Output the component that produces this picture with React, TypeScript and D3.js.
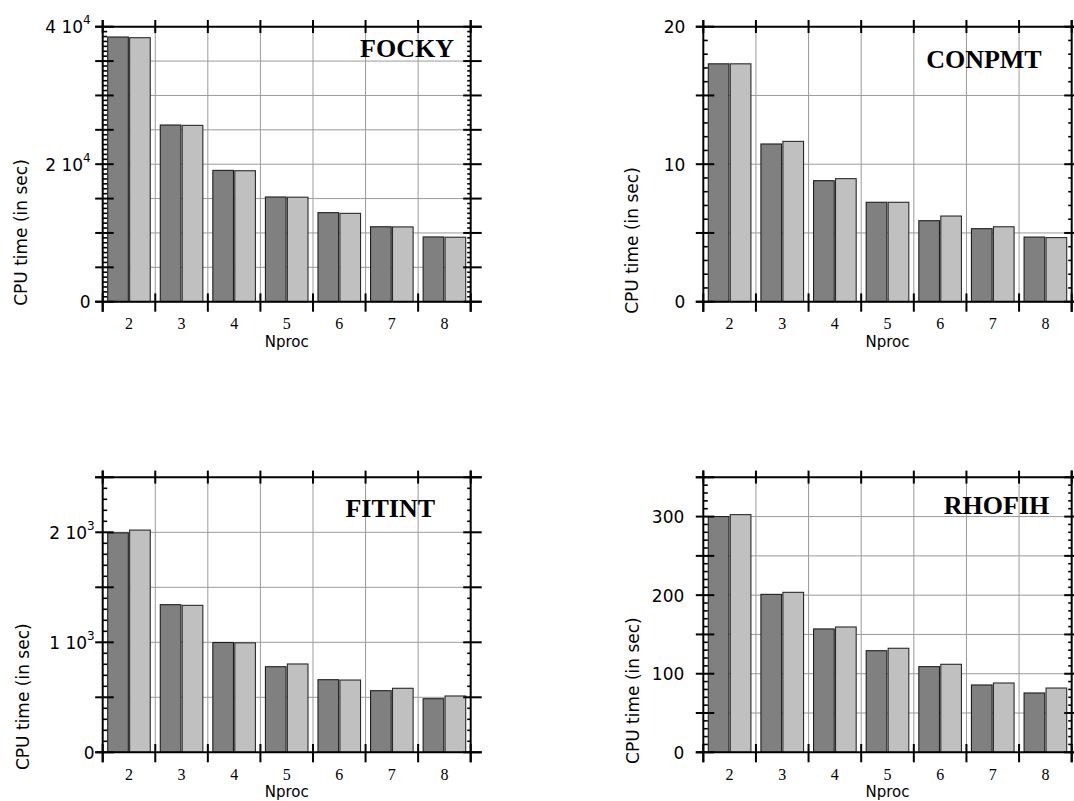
import React from "react";
import * as d3 from "d3";

// ---------- data ----------
const categories = [2, 3, 4, 5, 6, 7, 8];

const fockyDark = [38500, 25700, 19100, 15230, 12950, 10900, 9420];
const fockyLight = [38400, 25650, 19050, 15200, 12850, 10880, 9380];

const conpmtDark = [17.3, 11.47, 8.8, 7.23, 5.89, 5.31, 4.7];
const conpmtLight = [17.3, 11.66, 8.95, 7.23, 6.23, 5.45, 4.66];

const fitintDark = [1995, 1342, 998, 778, 660, 560, 487];
const fitintLight = [2020, 1336, 995, 803, 657, 582, 512];

const rhofihDark = [300, 201, 157, 129.3, 109, 85.7, 75.5];
const rhofihLight = [302.5, 203.6, 159.5, 132.4, 112, 88.2, 81.8];

const fockyTickValues = [0, 20000, 40000];
const fockyTickLabels = ["0", "2 10^4", "4 10^4"];
const conpmtTickValues = [0, 10, 20];
const conpmtTickLabels = ["0", "10", "20"];
const fitintTickValues = [0, 1000, 2000];
const fitintTickLabels = ["0", "1 10^3", "2 10^3"];
const rhofihTickValues = [0, 100, 200, 300];
const rhofihTickLabels = ["0", "100", "200", "300"];

const xTitle = "Nproc";
const yTitle = "CPU time (in sec)";

// ---------- styles ----------
const SANS = "'DejaVu Sans', Verdana, sans-serif";
const SERIF = "'Liberation Serif', 'Times New Roman', serif";
const DARK = "#808080";
const LIGHT = "#c0c0c0";
const GRID = "#9a9a9a";

type Panel = {
  title: string;
  dark: number[];
  light: number[];
  yMax: number;
  major: number;
  minorPer: number;
  tickValues: number[];
  tickLabels: string[];
  left: number;
  right: number;
  top: number;
  bottom: number;
  titleDx: number;
  titleDy: number;
  labelGap: number;
  yTitleX: number;
  yTitleY: number;
};

const panels: Panel[] = [
  {
    title: "FOCKY", dark: fockyDark, light: fockyLight, yMax: 40000, major: 5000, minorPer: 7,
    tickValues: fockyTickValues, tickLabels: fockyTickLabels,
    left: 102.7, right: 470.7, top: 26.7, bottom: 301.7,
    titleDx: 16.7, titleDy: 30.3, labelGap: 12, yTitleX: 20.5, yTitleY: 232.5,
  },
  {
    title: "CONPMT", dark: conpmtDark, light: conpmtLight, yMax: 20, major: 5, minorPer: 5,
    tickValues: conpmtTickValues, tickLabels: conpmtTickLabels,
    left: 703.3, right: 1071.7, top: 26.7, bottom: 301.7,
    titleDx: 30, titleDy: 41.3, labelGap: 18, yTitleX: 631.7, yTitleY: 240.5,
  },
  {
    title: "FITINT", dark: fitintDark, light: fitintLight, yMax: 2500, major: 500, minorPer: 5,
    tickValues: fitintTickValues, tickLabels: fitintTickLabels,
    left: 102.7, right: 470.7, top: 477.3, bottom: 752.3,
    titleDx: 35.7, titleDy: 39.4, labelGap: 8, yTitleX: 23.3, yTitleY: 696.7,
  },
  {
    title: "RHOFIH", dark: rhofihDark, light: rhofihLight, yMax: 350, major: 50, minorPer: 5,
    tickValues: rhofihTickValues, tickLabels: rhofihTickLabels,
    left: 703.3, right: 1071.7, top: 477.3, bottom: 752.3,
    titleDx: 22.4, titleDy: 36.7, labelGap: 19, yTitleX: 633.3, yTitleY: 690.6,
  },
];

function TickLabel({ x, y, text }: { x: number; y: number; text: string }) {
  const [m, e] = text.split("^");
  return (
    <text x={x} y={y + 6.5} textAnchor="end" fontFamily={SANS} fontSize={17} fill="#000">
      {m}
      {e !== undefined && (
        <tspan fontSize={12} dy={-9}>
          {e}
        </tspan>
      )}
    </text>
  );
}

function ChartPanel({ p }: { p: Panel }) {
  const x = d3
    .scaleLinear()
    .domain([categories[0] - 0.5, categories[categories.length - 1] + 0.5])
    .range([p.left, p.right]);
  const y = d3.scaleLinear().domain([0, p.yMax]).range([p.bottom, p.top]);
  const step = x(1) - x(0);
  const inner = d3.scaleBand<string>().domain(["dark", "light"]).range([5, step - 5]).paddingInner(0.06);

  const nMajor = Math.round(p.yMax / p.major);
  const majors = d3.range(0, nMajor + 1).map((i) => i * p.major);
  const nMinor = nMajor * p.minorPer;
  const minors = d3
    .range(0, nMinor + 1)
    .filter((i) => i % p.minorPer !== 0)
    .map((i) => (i * p.major) / p.minorPer);
  const boundaries = [categories[0] - 0.5, ...categories.map((c) => c + 0.5)];

  const axisW = 2;
  return (
    <g>
      {/* grid */}
      {majors
        .filter((v) => v > 0 && v < p.yMax)
        .map((v) => (
          <line key={"gh" + v} x1={p.left} x2={p.right} y1={y(v)} y2={y(v)} stroke={GRID} strokeWidth={1} />
        ))}
      {boundaries.slice(1, -1).map((b) => (
        <line key={"gv" + b} x1={x(b)} x2={x(b)} y1={p.top} y2={p.bottom} stroke={GRID} strokeWidth={1} />
      ))}
      {/* bars */}
      {categories.map((c, i) => {
        const x0 = x(c - 0.5);
        return (
          <g key={"b" + c}>
            <rect
              x={x0 + (inner("dark") as number)}
              y={y(p.dark[i])}
              width={inner.bandwidth()}
              height={y(0) - y(p.dark[i])}
              fill={DARK}
              stroke="#1e1e1e"
              strokeWidth={1.1}
            />
            <rect
              x={x0 + (inner("light") as number)}
              y={y(p.light[i])}
              width={inner.bandwidth()}
              height={y(0) - y(p.light[i])}
              fill={LIGHT}
              stroke="#2a2a2a"
              strokeWidth={1.1}
            />
          </g>
        );
      })}
      {/* frame lines */}
      <line x1={p.left - 7.5} x2={p.right + 11} y1={p.top} y2={p.top} stroke="#000" strokeWidth={axisW} />
      <line x1={p.left - 7.5} x2={p.right + 11} y1={p.bottom} y2={p.bottom} stroke="#000" strokeWidth={axisW} />
      <line x1={p.left} x2={p.left} y1={p.top - 6.7} y2={p.bottom + 10} stroke="#000" strokeWidth={axisW} />
      <line x1={p.right} x2={p.right} y1={p.top - 6.7} y2={p.bottom + 10} stroke="#000" strokeWidth={axisW} />
      {/* x ticks top & bottom */}
      {boundaries.map((b) => (
        <g key={"xt" + b}>
          <line x1={x(b)} x2={x(b)} y1={p.top - 6.7} y2={p.top + 6.3} stroke="#000" strokeWidth={2} />
          <line x1={x(b)} x2={x(b)} y1={p.bottom - 8.3} y2={p.bottom + 10} stroke="#000" strokeWidth={2} />
        </g>
      ))}
      {/* y major ticks */}
      {majors.map((v) => (
        <g key={"ym" + v}>
          <line x1={p.left - 7.5} x2={p.left + 11} y1={y(v)} y2={y(v)} stroke="#000" strokeWidth={2} />
          <line x1={p.right - 7.5} x2={p.right + 11} y1={y(v)} y2={y(v)} stroke="#000" strokeWidth={2} />
        </g>
      ))}
      {/* y minor ticks */}
      {minors.map((v, k) => (
        <g key={"yn" + k}>
          <line x1={p.left} x2={p.left + 4.5} y1={y(v)} y2={y(v)} stroke="#000" strokeWidth={1.6} />
          <line x1={p.right - 3.5} x2={p.right} y1={y(v)} y2={y(v)} stroke="#000" strokeWidth={1.6} />
        </g>
      ))}
      {/* y tick labels */}
      {p.tickValues.map((v, k) => (
        <TickLabel key={"yl" + v} x={p.left - p.labelGap} y={y(v)} text={p.tickLabels[k]} />
      ))}
      {/* x tick labels */}
      {categories.map((c) => (
        <text
          key={"xl" + c}
          x={x(c)}
          y={p.bottom + 27.5}
          textAnchor="middle"
          fontFamily={SERIF}
          fontSize={16}
          fill="#000"
        >
          {c}
        </text>
      ))}
      {/* axis titles */}
      <text
        x={(p.left + p.right) / 2}
        y={p.bottom + 45}
        textAnchor="middle"
        fontFamily={SANS}
        fontSize={15}
        fill="#000"
      >
        {xTitle}
      </text>
      <text
        transform={`translate(${p.yTitleX},${p.yTitleY}) rotate(-90)`}
        textAnchor="middle"
        dominantBaseline="central"
        fontFamily={SANS}
        fontSize={17}
        fill="#000"
      >
        {yTitle}
      </text>
      {/* panel title */}
      <text
        x={p.right - p.titleDx}
        y={p.top + p.titleDy}
        textAnchor="end"
        fontFamily={SERIF}
        fontWeight="bold"
        fontSize={26}
        fill="#000"
      >
        {p.title}
      </text>
    </g>
  );
}

export default function App() {
  return (
    <div style={{ position: "absolute", left: 0, top: 0, width: 1074, height: 801, background: "#fff" }}>
      <svg width={1074} height={801} style={{ display: "block" }}>
        <rect width={1074} height={801} fill="#fff" />
        {panels.map((p) => (
          <ChartPanel key={p.title} p={p} />
        ))}
      </svg>
    </div>
  );
}
